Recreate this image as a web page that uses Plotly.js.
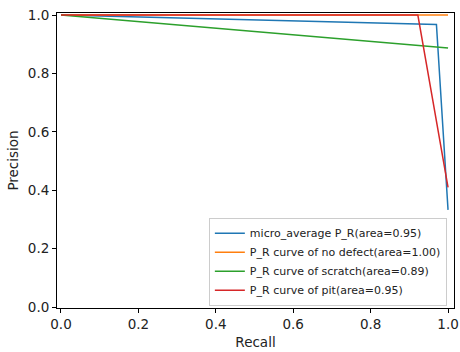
<!DOCTYPE html>
<html><head><meta charset="utf-8">
<script src="https://cdn.plot.ly/plotly-3.0.1.min.js"></script>
<style>body{margin:0;}#c{width:460px;height:352px;}</style>
</head><body><div id="c"></div>
<script>
const names = ["micro_average P_R(area=0.95)", "P_R curve of no defect(area=1.00)", "P_R curve of scratch(area=0.89)", "P_R curve of pit(area=0.95)"];
const colors = ["#1f77b4", "#ff7f0e", "#2ca02c", "#d62728"];
const recallMicro = [0, 0.97, 1.0];
const precisionMicro = [1.0, 0.968, 0.333];
const recallNoDefect = [0, 1.0];
const precisionNoDefect = [1.0, 1.0];
const recallScratch = [0, 1.0];
const precisionScratch = [1.0, 0.887];
const recallPit = [0, 0.922, 1.0];
const precisionPit = [1.0, 1.0, 0.41];
const xs = [recallMicro, recallNoDefect, recallScratch, recallPit];
const ys = [precisionMicro, precisionNoDefect, precisionScratch, precisionPit];
const traces = xs.map((x, i) => ({x: x, y: ys[i], mode: 'lines', name: names[i], line: {color: colors[i], width: 1.5}}));
const ax = {showgrid: false, zeroline: false, showline: true, mirror: true, linecolor: '#000', linewidth: 1, ticks: 'outside', ticklen: 4, tickcolor: '#000', tickfont: {size: 13.5, color: '#222'}, dtick: 0.2, tickformat: '.1f', ticklabeloverflow: 'allow'};
const layout = {
  width: 460, height: 352,
  margin: {l: 57, r: 6, t: 13, b: 44},
  font: {family: 'DejaVu Sans', color: '#222'},
  paper_bgcolor: '#fff', plot_bgcolor: '#fff',
  xaxis: Object.assign({}, ax, {range: [-0.0103, 1.0154], title: {text: 'Recall', font: {size: 13.5}, standoff: 6}}),
  yaxis: Object.assign({}, ax, {range: [-0.003, 1.007], title: {text: 'Precision', font: {size: 13.5}, standoff: 6}}),
  legend: {x: 0.982, y: 0.008, xanchor: 'right', yanchor: 'bottom', bgcolor: 'rgba(255,255,255,0.9)', bordercolor: '#cccccc', borderwidth: 1, font: {size: 11}, itemwidth: 30, tracegroupgap: 0},
  showlegend: true
};
Plotly.newPlot('c', traces, layout, {displayModeBar: false, staticPlot: true});
</script></body></html>
